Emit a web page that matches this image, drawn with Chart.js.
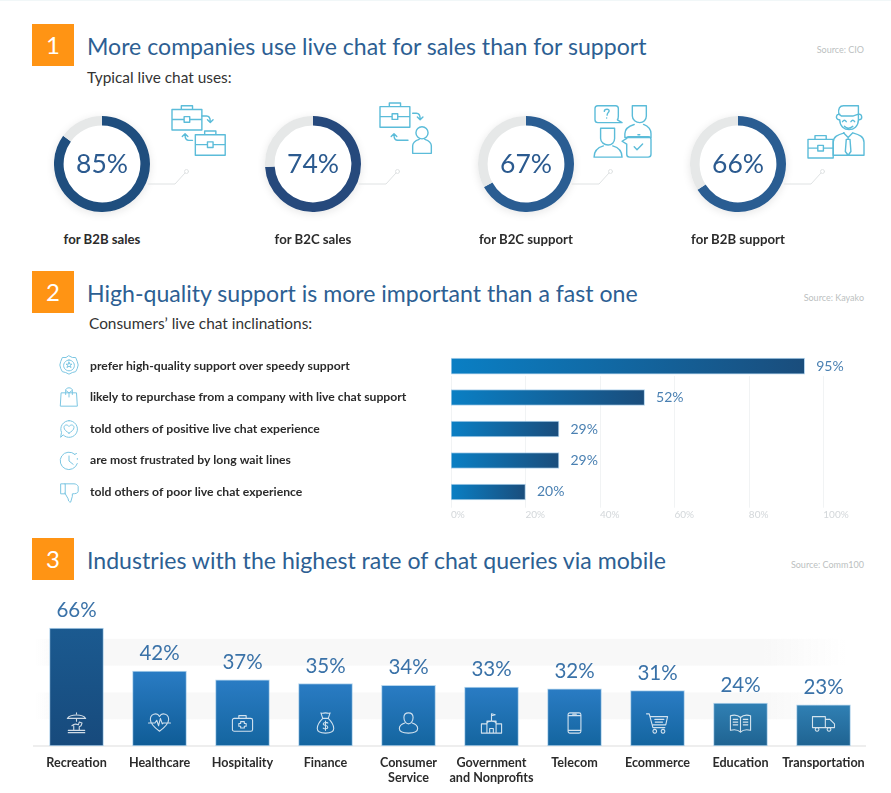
<!DOCTYPE html>
<html>
<head>
<meta charset="utf-8">
<title>Live chat uses</title>
<script src="https://cdn.jsdelivr.net/npm/chart.js@4"></script>
<style>
  html, body { margin: 0; background: #fff; }
  body { position: relative; width: 891px; height: 793px; overflow: hidden; font-family: Lato, sans-serif; border-top: 1px solid #f1f7f8; box-sizing: border-box; }
  #page { position: absolute; left: 0; top: -1px; width: 891px; height: 793px; }
  #page > * { position: absolute; }
  .num { left: 32px; width: 42px; height: 42px; background: #ff9414; color: #fff; font-size: 24px; line-height: 42px; text-align: center; }
  .title { left: 87px; color: #2d5f93; font-size: 23.1px; line-height: 30px; white-space: nowrap; }
  .sub { color: #333; font-size: 15.4px; line-height: 20px; white-space: nowrap; }
  .src { right: 27px; color: #bcbfc1; font-size: 9px; line-height: 12px; white-space: nowrap; }
  .use { width: 160px; text-align: center; color: #2b2b2b; font-size: 13.2px; font-weight: 700; line-height: 16px; top: 231px; }
  .ring { width: 96px; height: 96px; top: 116px; border-radius: 50%; box-shadow: 0 2px 9px rgba(0,0,0,.10); }
  svg { fill: none; stroke-linecap: round; stroke-linejoin: round; }
</style>
</head>
<body>
<div id="page">
  <div class="num" style="top:24px">1</div>
  <div class="title" style="top:31px" id="t1">More companies use live chat for sales than for support</div>
  <div class="sub" style="left:87px;top:67px">Typical live chat uses:</div>
  <div class="src" style="top:44px">Source: CIO</div>

  <div class="num" style="top:271px">2</div>
  <div class="title" style="top:278px">High-quality support is more important than a fast one</div>
  <div class="sub" style="left:89px;top:313px">Consumers’ live chat inclinations:</div>
  <div class="src" style="top:292px">Source: Kayako</div>

  <div class="num" style="top:538px">3</div>
  <div class="title" style="top:545px">Industries with the highest rate of chat queries via mobile</div>
  <div class="src" style="top:559px">Source: Comm100</div>

  <canvas id="inclinationChart" width="891" height="190" style="left:0;top:340px"></canvas>
  <canvas id="industryChart" width="891" height="203" style="left:0;top:590px"></canvas>
</div>

<script>
const useLabels = ['for B2B sales', 'for B2C sales', 'for B2C support', 'for B2B support'];
const useValues = [85, 74, 67, 66];

const inclinationLabels = [
  'prefer high-quality support over speedy support',
  'likely to repurchase from a company with live chat support',
  'told others of positive live chat experience',
  'are most frustrated by long wait lines',
  'told others of poor live chat experience'
];
const inclinationValues = [95, 52, 29, 29, 20];
const inclinationTicks = ['0%', '20%', '40%', '60%', '80%', '100%'];

const industryLabels = ['Recreation', 'Healthcare', 'Hospitality', 'Finance', ['Consumer', 'Service'],
  ['Government', 'and Nonprofits'], 'Telecom', 'Ecommerce', 'Education', 'Transportation'];
const industryValues = [66, 42, 37, 35, 34, 33, 32, 31, 24, 23];

// colours, one per mark
const ringColors = ['#1f4e7e', '#26497c', '#2a5d92', '#2a5d92'];
const ringCenters = [102, 313, 526, 738];
const barTops = ['#1b5a90', '#2a7cc4', '#2a7cc4', '#2a7cc4', '#2a7cc4', '#2a7cc4', '#2a7cc4', '#2a7cc4', '#3080b4', '#3080b4'];
const barBottoms = ['#174a7c', '#0f5c96', '#14659f', '#14659f', '#14659f', '#14659f', '#14659f', '#14659f', '#1f6391', '#1f6391'];

// line icons, 24x24 box
const barIcons = [
  'M2 7C5 2 19 2 22 7ZM12 2V1M12 7v3M7 15c2-2 5-2 7-1l1-3 3 1-1 3-2 1v3M9 15v4M3 20h18M3 22.500h18',
  'M12 21C5 16 2 12 2 8 2 4 5 2 8 2c2 0 3 1 4 3 1-2 2-3 4-3 3 0 6 2 6 6 0 4-3 8-10 13ZM0 12h7l2-3 2 6 2-8 2 6 1-1h8',
  'M3 7h18a2 2 0 0 1 2 2v10a2 2 0 0 1-2 2H3a2 2 0 0 1-2-2V9a2 2 0 0 1 2-2ZM8 7V4h8v3M10 10.500h4v2h2v3h-2v2h-4v-2H8v-3h2Z',
  'M9 7 7 1c2 1 3 0 5 0s3 1 5 0l-2 6ZM9 7c-4 4-6 8-6 11 0 3 3 5 9 5s9-2 9-5c0-3-2-7-6-11M14.500 12c-1-1-5-1-5 1s5 1 5 3.500-4 2-5 1M12 10v10',
  'M12 1C9 1 7 3 7 6s2 7 5 7 5-4 5-7-2-5-5-5ZM8 12c-3 1-6 3-6 6 0 3 3 5 10 5s10-2 10-5c0-3-3-5-6-6',
  'M1 23V13h6v10M17 13h6v10M7 23V10h10v13M1 23h22M10 23v-5h4v5M12 10V2l4 1-4 1M7 13c0-4 10-4 10 0',
  'M7 1h10a2 2 0 0 1 2 2v18a2 2 0 0 1-2 2H7a2 2 0 0 1-2-2V3a2 2 0 0 1 2-2ZM5 4h14M5 20h14M10 2.500h4',
  'M0 2h3l4 15h13M4 5h19l-2 9H7M9 8h10M9.500 11h8M9 19a2 2 0 1 0 .01 0ZM18 19a2 2 0 1 0 .01 0Z',
  'M12 6C9 3 5 3 1 4v16c4-1 8-1 11 2 3-3 7-3 11-2V4c-4-1-8-1-11 2ZM12 6v16M4 8h5M4 11h5M4 14h5M15 8h5M15 11h5M15 14h5',
  'M0 5h14v12H0ZM14 8h5l5 5v4H14M5 17a2 2 0 1 0 .01 0ZM18 17a2 2 0 1 0 .01 0Z'
];
const listIcons = [
  'M12 1 16 3 20 3 22 8 23 12 22 16 20 20 16 21 12 23 8 21 4 20 2 16 1 12 2 8 4 3 8 3ZM12 6a6.500 6.500 0 1 0 .01 0ZM12 8.500l1 2.500 2.500 0-2 1.500 1 2.500-2.500-1.500-2.500 1.500 1-2.500-2-1.500 2.500 0Z',
  'M3 7h18l1 16H2ZM8 9V4c0-4 8-4 8 0v5M8 4l4 3 4-3M12 7v5',
  'M12 2a10 10 0 1 1-7 17l-3 3 1-6A10 10 0 0 1 12 2ZM12 17c-3-2-6-4-6-7 0-3 4-4 6-1 2-3 6-2 6 1 0 3-3 5-6 7Z',
  'M19 4A10.500 10.500 0 1 0 22 15M12 6v6l5 4M19 4l2-1M22 9v1',
  'M7 1h11c2 0 4 1 5 3v6c0 2-3 3-7 3v3l-2 7c-2 0-3-2-3-4l-4-7M7 1H2v12h5Z'
];

const bizIcons = [
  // two cases
  caseAt(0, 4) + caseAt(25, 31) + '<path d="M32 14h5c3 0 4 2 4 6m-3-2 3 3 3-3M22 40h-4c-3 0-4-2-4-6m-3 2 3-3 3 3"/>',
  // case and person
  caseAt(0, 2) + '<path d="M35 12h4c3 0 4 2 4 6m-3-2 3 3 3-3"/><circle cx="45" cy="33" r="6.500"/><path d="M35 55V47c0-4 4-6 7-7M55 55V47c0-4-4-6-7-7M35 55h20M30 41h-11c-3 0-4-2-4-6m-3 2 3-3 3 3"/>',
  // two agents, two bubbles
  '<path d="M3 3h19c2 0 3 1 3 3v8c0 2 0 3-1 4l5 3h-8H3c-2 0-3-1-3-3V6c0-2 1-3 3-3ZM10 9c0-3 6-3 5 0-1 2-2 2-2 4M12.500 16v0"/>' +
  '<path d="M40 3h15v11c0 4-3 7-7 7s-8-3-8-7ZM32 33c0-5 3-8 10-10M60 33c0-5-3-8-8-10M32 33v4h28v-4M46 34h2"/>' +
  '<path d="M6 27h15v11c0 4-3 7-7 7s-8-3-8-7ZM-1 58c0-6 3-10 10-12M29 58c0-6-3-10-10-12M-1 58h30"/>' +
  '<path d="M36 36h21c2 0 3 1 3 3v16c0 2-1 3-3 3H37c-2 0-3-1-3-3V44l-5-3 5-3c0-1 1-2 2-2ZM42 47l3 3 6-6"/>',
  // smiling man with case
  caseAt(0, 36, 27, 20) +
  '<path d="M27 56V42c0-6 5-8 12-10M60 56V42c0-6-5-8-12-10M27 56h33M38 32l5 5 5-5M43 37v2M41 39h4l1 13-3 4-3-4ZM33 18a3 3 0 1 1 1-6M55 18a3 3 0 1 0-1-6M34 18c0 14 20 14 20 0V3H38c-4 0-6 3-5 9l3 2h12l6-2M37 20q2-3 4 0M46 20q2-3 4 0M39 25q4 4 9 0"/>'
];
const bizIconBoxes = [[172, 103], [380, 102], [595, 103], [808, 103]];

function caseAt(x, y, w = 32, h = 22) {
  const m = y + h * 0.62;
  const c = x + w / 2;
  return `<path d="M${x} ${y + 3}h${w}v${h}h${-w}ZM${x} ${m}h${c - x - 3}M${c + 3} ${m}H${x + w}M${c - 3} ${m - 3}h6v6h-6ZM${c - 6} ${y + 3}v-4h12v4"/>`;
}

const page = document.getElementById('page');

function addSvg(html, left, top, size, box, color, width) {
  const el = document.createElementNS('http://www.w3.org/2000/svg', 'svg');
  el.setAttribute('viewBox', `0 0 ${box} ${box}`);
  el.setAttribute('width', size);
  el.setAttribute('height', size);
  el.style.cssText = `left:${left}px;top:${top}px;stroke:${color};stroke-width:${width};overflow:visible`;
  el.innerHTML = html;
  page.appendChild(el);
}

// ---- section 1: rings
const ringText = {
  id: 'ringText',
  afterDraw(chart) {
    const arc = chart.getDatasetMeta(0).data[0];
    const ctx = chart.ctx;
    ctx.save();
    ctx.font = '26.5px Lato';
    ctx.fillStyle = '#2b5a8f';
    ctx.textAlign = 'center';
    ctx.textBaseline = 'middle';
    ctx.fillText(chart.data.datasets[0].data[0] + '%', arc.x, arc.y);
    ctx.restore();
  }
};

useValues.forEach(function(value, i) {
  const cx = ringCenters[i];
  const wrap = document.createElement('div');
  wrap.className = 'ring';
  wrap.style.left = (cx - 48) + 'px';
  wrap.innerHTML = '<canvas width="96" height="96"></canvas>';
  page.appendChild(wrap);

  new Chart(wrap.firstChild, {
    type: 'doughnut',
    data: {
      labels: [useLabels[i], ''],
      datasets: [{ data: [value, 100 - value], backgroundColor: [ringColors[i], '#e6e8e8'], borderWidth: 0 }]
    },
    options: {
      responsive: false,
      animation: false,
      cutout: '80%',
      plugins: { legend: { display: false }, tooltip: { enabled: false } }
    },
    plugins: [ringText]
  });

  const label = document.createElement('div');
  label.className = 'use';
  label.style.left = (cx - 80) + 'px';
  label.textContent = useLabels[i];
  page.appendChild(label);

  addSvg('<path d="M0 20h27l10-11"/><circle cx="38.500" cy="7.500" r="2"/>', cx + 46, 164, 60, 60, '#dfe2e3', 1);
  addSvg(bizIcons[i], bizIconBoxes[i][0], bizIconBoxes[i][1], 56, 60, '#5bbcd9', 1.5);
});

// ---- section 2: horizontal bars
listIcons.forEach(function(path, i) {
  addSvg(`<path d="${path}"/>`, 59, 355 + i * 32, 20, 24, '#7cc6e2', 1.2);
});

const hBarLabels = {
  id: 'hBarLabels',
  afterDatasetsDraw(chart) {
    const ctx = chart.ctx;
    ctx.save();
    ctx.font = '14px Lato';
    ctx.fillStyle = '#4a80b2';
    ctx.textBaseline = 'middle';
    chart.getDatasetMeta(0).data.forEach(function(bar, i) {
      ctx.fillText(inclinationValues[i] + '%', bar.x + 11.500, bar.y);
    });
    ctx.restore();
  }
};

// grid runs from just under the first bar down to the axis
const hBarGrid = {
  id: 'hBarGrid',
  beforeDatasetsDraw(chart) {
    const ctx = chart.ctx;
    const x = chart.scales.x;
    const top = chart.scales.y.getPixelForValue(0) + 10;
    ctx.save();
    ctx.strokeStyle = '#f1f3f4';
    ctx.lineWidth = 1;
    x.ticks.forEach(function(tick) {
      const px = Math.round(x.getPixelForValue(tick.value)) + 0.5;
      ctx.beginPath();
      ctx.moveTo(px, top);
      ctx.lineTo(px, chart.chartArea.bottom);
      ctx.stroke();
    });
    ctx.restore();
  }
};

new Chart(document.getElementById('inclinationChart'), {
  type: 'bar',
  data: {
    labels: inclinationLabels,
    datasets: [{
      data: inclinationValues,
      barThickness: 16,
      borderWidth: 1,
      borderSkipped: false,
      borderColor: 'rgba(150,195,230,.7)',
      backgroundColor: function(c) {
        const area = c.chart.chartArea;
        if (!area || c.raw === undefined) return '#0a7fc4';
        const x = c.chart.scales.x;
        const g = c.chart.ctx.createLinearGradient(x.getPixelForValue(0), 0, x.getPixelForValue(c.raw), 0);
        g.addColorStop(0, '#0a7fc4');
        g.addColorStop(1, '#1a4d7c');
        return g;
      }
    }]
  },
  options: {
    indexAxis: 'y',
    responsive: false,
    animation: false,
    layout: { padding: { left: 90, right: 67.700, top: 7.700, bottom: 0 } },
    plugins: { legend: { display: false }, tooltip: { enabled: false } },
    scales: {
      x: {
        min: 0,
        max: 100,
        grid: { display: false, drawTicks: false },
        border: { display: false },
        afterFit(scale) { scale.height = 22.300; },
        ticks: {
          stepSize: 20,
          align: 'start',
          padding: 1,
          color: '#d3d7da',
          font: { family: 'Lato', size: 10 },
          callback: function(value, i) { return inclinationTicks[i]; }
        }
      },
      y: {
        grid: { display: false },
        border: { display: false },
        afterFit(scale) { scale.width = 361; },
        ticks: {
          crossAlign: 'far',
          color: '#2b2b2b',
          font: { family: 'Lato', size: 12.2, weight: '700' }
        }
      }
    }
  },
  plugins: [hBarGrid, hBarLabels]
});

// ---- section 3: column chart
// pale bands behind the columns, fading out at both ends, and the faint base line
const bandValues = [[15, 30], [45, 60]];
const columnBands = {
  id: 'columnBands',
  beforeDatasetsDraw(chart) {
    const ctx = chart.ctx;
    const y = chart.scales.y;
    const area = chart.chartArea;
    const g = ctx.createLinearGradient(area.left, 0, area.right - 20, 0);
    g.addColorStop(0, 'rgba(248,248,248,0)');
    g.addColorStop(0.03, '#f8f8f8');
    g.addColorStop(0.9, '#f8f8f8');
    g.addColorStop(1, 'rgba(248,248,248,0)');
    ctx.save();
    ctx.fillStyle = g;
    bandValues.forEach(function(b) {
      ctx.fillRect(area.left, y.getPixelForValue(b[1]), area.right - area.left - 20, y.getPixelForValue(b[0]) - y.getPixelForValue(b[1]));
    });
    ctx.fillStyle = '#eeeeee';
    ctx.fillRect(area.left - 2, y.getPixelForValue(0) - 1, area.right - area.left + 3, 2);
    ctx.restore();
  }
};

const columnExtras = {
  id: 'columnExtras',
  afterDatasetsDraw(chart) {
    const ctx = chart.ctx;
    const bottom = chart.chartArea.bottom;
    ctx.save();
    chart.getDatasetMeta(0).data.forEach(function(bar, i) {
      ctx.font = '20.500px Lato';
      ctx.fillStyle = '#3a72a8';
      ctx.textAlign = 'center';
      ctx.textBaseline = 'middle';
      ctx.fillText(industryValues[i] + '%', bar.x, bar.y - 17.500);

      ctx.save();
      ctx.translate(bar.x - 11, bottom - 34);
      ctx.scale(22 / 24, 22 / 24);
      ctx.strokeStyle = 'rgba(255,255,255,.8)';
      ctx.lineWidth = 1.200;
      ctx.lineJoin = 'round';
      ctx.lineCap = 'round';
      ctx.stroke(new Path2D(barIcons[i]));
      ctx.restore();
    });
    ctx.restore();
  }
};

new Chart(document.getElementById('industryChart'), {
  type: 'bar',
  data: {
    labels: industryLabels,
    datasets: [{
      data: industryValues,
      barThickness: 54,
      borderWidth: 1,
      borderSkipped: false,
      borderColor: 'rgba(150,195,230,.7)',
      backgroundColor: function(c) {
        const area = c.chart.chartArea;
        if (!area || c.raw === undefined) return barTops[c.dataIndex || 0];
        const y = c.chart.scales.y;
        const g = c.chart.ctx.createLinearGradient(0, y.getPixelForValue(c.raw), 0, y.getPixelForValue(0));
        g.addColorStop(0, barTops[c.dataIndex]);
        g.addColorStop(1, barBottoms[c.dataIndex]);
        return g;
      }
    }]
  },
  options: {
    responsive: false,
    animation: false,
    layout: { padding: { left: 35, right: 26, top: 31, bottom: 0 } },
    plugins: { legend: { display: false }, tooltip: { enabled: false } },
    scales: {
      x: {
        grid: { display: false, drawTicks: false },
        border: { display: false },
        afterFit(scale) { scale.height = 47; },
        ticks: {
          autoSkip: false,
          maxRotation: 0,
          padding: 10,
          color: '#2b2b2b',
          font: { family: 'Lato', size: 12.6, weight: '700', lineHeight: 1.14 }
        }
      },
      y: { display: false, min: 0, max: 70 }
    }
  },
  plugins: [columnBands, columnExtras]
});
</script>
</body>
</html>
